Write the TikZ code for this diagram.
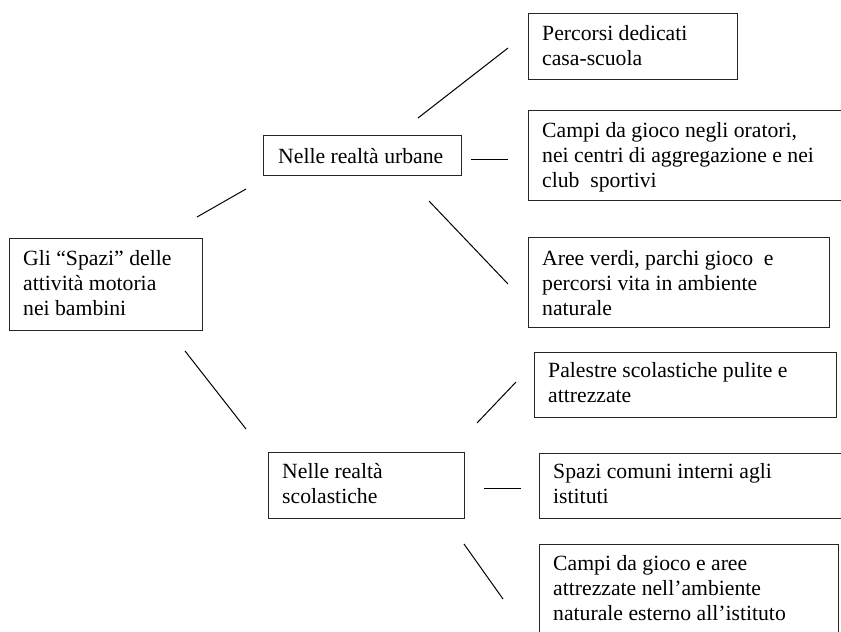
\documentclass[tikz,border=0pt]{standalone}
\usepackage{fontspec}
\setmainfont{Liberation Serif}
\begin{document}
\begin{tikzpicture}[x=1pt,y=-1pt,
  box/.style={draw=black!85, line width=1.3pt, rectangle, inner sep=0pt, anchor=north west},
  txt/.style={inner sep=0pt, anchor=base west, align=left, font=\fontsize{21.7}{25}\selectfont},
  link/.style={draw=black, line width=1pt}]
\useasboundingbox (0,0) rectangle (841,632);
\clip (0,0) rectangle (841,632);
\fill[white] (0,0) rectangle (841,632);
% boxes
\node[box, minimum width=193pt, minimum height=92pt] (root) at (9,238) {};
\node[box, minimum width=198pt, minimum height=40pt] (urb) at (263,135) {};
\node[box, minimum width=209pt, minimum height=66pt] (b1) at (528,13) {};
\node[box, minimum width=316pt, minimum height=90pt] (b2) at (528,110) {};
\node[box, minimum width=301pt, minimum height=90pt] (b3) at (528,237) {};
\node[box, minimum width=196pt, minimum height=66pt] (sco) at (268,452) {};
\node[box, minimum width=302pt, minimum height=65pt] (b4) at (534,352) {};
\node[box, minimum width=305pt, minimum height=65pt] (b5) at (539,453) {};
\node[box, minimum width=299pt, minimum height=95pt] (b6) at (539,544) {};
% texts (anchor = baseline of the last line)
\node[txt] (roott) at (23,315) {Gli “Spazi” delle\\attività motoria\\nei bambini};
\node[txt] (urbt) at (278,163) {Nelle realtà urbane};
\node[txt] (b1t) at (542,65) {Percorsi dedicati\\casa-scuola};
\node[txt] (b2t) at (542,187) {Campi da gioco negli oratori,\\nei centri di aggregazione e nei\\club~ sportivi};
\node[txt] (b3t) at (542,315) {Aree verdi, parchi gioco~ e\\percorsi vita in ambiente\\naturale};
\node[txt] (scot) at (282,503) {Nelle realtà\\scolastiche};
\node[txt] (b4t) at (548,402) {Palestre scolastiche pulite e\\attrezzate};
\node[txt] (b5t) at (553,503) {Spazi comuni interni agli\\istituti};
\node[txt] (b6t) at (553,620) {Campi da gioco e aree\\attrezzate nell’ambiente\\naturale esterno all’istituto};
% connector end points
\coordinate (rU1) at (197,217); \coordinate (rU2) at (246,189);
\coordinate (rS1) at (185,351); \coordinate (rS2) at (246,429);
\coordinate (u11) at (418,118); \coordinate (u12) at (508,48);
\coordinate (u21) at (471,159); \coordinate (u22) at (508,159);
\coordinate (u31) at (429,201); \coordinate (u32) at (508,284);
\coordinate (s41) at (477,423); \coordinate (s42) at (516,382);
\coordinate (s51) at (484,488); \coordinate (s52) at (521,488);
\coordinate (s61) at (464,544); \coordinate (s62) at (503,599);
\draw[link] (rU1) -- (rU2);
\draw[link] (rS1) -- (rS2);
\draw[link] (u11) -- (u12);
\draw[link] (u21) -- (u22);
\draw[link] (u31) -- (u32);
\draw[link] (s41) -- (s42);
\draw[link] (s51) -- (s52);
\draw[link] (s61) -- (s62);
\end{tikzpicture}
\end{document}
